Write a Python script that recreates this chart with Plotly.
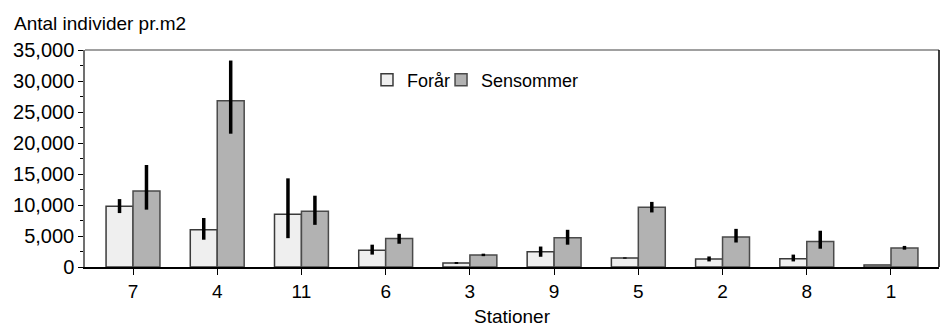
import plotly.graph_objects as go

stations = ["7", "4", "11", "6", "3", "9", "5", "2", "8", "1"]
foraar = [9800, 6000, 8500, 2700, 650, 2450, 1450, 1300, 1350, 320]
foraar_err_plus = [1150, 1900, 5800, 900, 150, 850, 100, 400, 650, 0]
foraar_err_minus = [1100, 1600, 3850, 700, 150, 800, 100, 400, 450, 0]
sensommer = [12250, 26800, 9000, 4600, 1950, 4700, 9650, 4850, 4100, 3050]
sens_err_plus = [4200, 6500, 2500, 750, 200, 1300, 850, 1300, 1750, 350]
sens_err_minus = [3000, 5300, 2200, 850, 200, 1100, 850, 900, 1150, 250]

FONT = "Liberation Sans, Arial, sans-serif"

fig = go.Figure()
fig.add_trace(go.Bar(
    name="Forår", x=stations, y=foraar, legend="legend",
    marker=dict(color="#efefef", line=dict(color="#3a3a3a", width=1.5)),
    error_y=dict(type="data", array=foraar_err_plus, arrayminus=foraar_err_minus,
                 symmetric=False, color="black", thickness=3.5, width=0),
))
fig.add_trace(go.Bar(
    name="Sensommer", x=stations, y=sensommer, legend="legend2",
    marker=dict(color="#b2b2b2", line=dict(color="#4a4a4a", width=1.5)),
    error_y=dict(type="data", array=sens_err_plus, arrayminus=sens_err_minus,
                 symmetric=False, color="black", thickness=3.5, width=0),
))

legend_common = dict(orientation="h", y=0.862, xanchor="left", yanchor="middle",
                     font=dict(size=18), bgcolor="rgba(0,0,0,0)", itemwidth=30)

fig.update_layout(
    width=942, height=329,
    margin=dict(l=85, r=3, t=50, b=62, autoexpand=False),
    paper_bgcolor="white", plot_bgcolor="white",
    font=dict(family=FONT, size=19, color="black"),
    barmode="group", bargap=0.36, bargroupgap=0,
    showlegend=True,
    legend=dict(x=0.3302, **legend_common),
    legend2=dict(x=0.4169, **legend_common),
    annotations=[dict(text="Antal individer pr.m2", xref="paper", yref="paper",
                      x=-0.085, y=1.124, xanchor="left", yanchor="middle",
                      showarrow=False, font=dict(size=19))],
    shapes=[
        dict(type="line", xref="paper", yref="paper", x0=0, x1=1, y0=1, y1=1,
             line=dict(color="#808080", width=1.5)),
        dict(type="line", xref="paper", yref="paper", x0=1, x1=1, y0=0, y1=1,
             line=dict(color="black", width=1.5)),
    ],
)

fig.update_xaxes(
    type="category", range=[-0.57, 9.57], automargin=False,
    showline=True, linecolor="black", linewidth=1.5,
    ticks="outside", ticklen=6, tickcolor="black", tickwidth=1,
    showgrid=False, zeroline=False,
    title=dict(text="Stationer", font=dict(size=19), standoff=9),
    tickfont=dict(size=19),
)
fig.update_yaxes(
    range=[0, 35000], dtick=5000, tick0=0, tickformat=",", automargin=False,
    showline=True, linecolor="#707070", linewidth=1.5,
    ticks="outside", ticklen=5, tickcolor="black", tickwidth=1,
    minor=dict(dtick=2500, ticks="outside", ticklen=3, tickcolor="black"),
    showgrid=False, zeroline=False,
    tickfont=dict(size=20),
)

fig.write_html("out.html", config={"displayModeBar": False},
               post_script="document.body.style.margin='0px';")
